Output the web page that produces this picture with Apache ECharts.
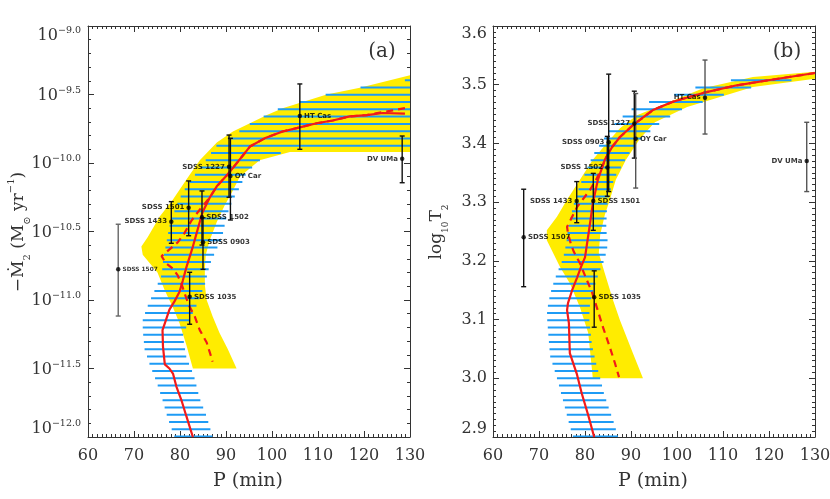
<!DOCTYPE html>
<html><head><meta charset="utf-8">
<script src="https://cdn.jsdelivr.net/npm/echarts/dist/echarts.min.js"></script>
<style>html,body{margin:0;padding:0;background:#fff}#c{width:830px;height:499px}</style>
</head><body><div id="c"></div>
<script>
// ================= DATA =================
// axis ranges / ticks
const xTicks = [60, 70, 80, 90, 100, 110, 120, 130];
const yTicksA = [-12.0, -11.5, -11.0, -10.5, -10.0, -9.5, -9.0];   // log10(-Mdot)
const yTicksB = [2.9, 3.0, 3.1, 3.2, 3.3, 3.4, 3.5, 3.6];            // log10 T2

// ---- panel (a) : log10(-Mdot2) vs P ----
const yellowAP = [130.0,119.1,111.9,102.3,98.9,91.5,88.0,84.3,81.4,78.4,75.6,73.0,71.6,71.9,75.1,76.7,78.4,79.9,81.4,82.8,
                  92.3,90.4,88.6,87.1,85.8,85.4,85.4,85.6,86.5,88.0,89.7,91.5,93.0,97.3,103.9,130.0];
const yellowAL = [-9.36,-9.45,-9.50,-9.60,-9.65,-9.77,-9.85,-9.98,-10.12,-10.27,-10.39,-10.54,-10.61,-10.67,-10.80,-10.93,-11.05,-11.17,-11.33,-11.50,
                  -11.50,-11.36,-11.24,-11.12,-11.00,-10.89,-10.78,-10.67,-10.56,-10.43,-10.31,-10.20,-10.10,-9.98,-9.92,-9.92];
const blueAP = [130.0,119.1,111.9,102.3,98.9,95.8,91.5,88.0,85.8,83.6,81.4,79.9,78.8,77.7,77.1,76.4,76.0,74.5,73.0,71.9,71.9,72.3,73.4,74.9,76.2,77.3,78.8,
                87.1,85.8,84.3,83.0,81.4,80.6,82.1,83.6,85.4,86.5,87.8,89.1,90.2,91.5,93.0,94.5,98.0,103.9,130.0];
const blueAL = [-9.39,-9.45,-9.50,-9.59,-9.65,-9.70,-9.80,-9.87,-9.97,-10.07,-10.17,-10.26,-10.35,-10.46,-10.57,-10.69,-10.82,-10.93,-11.04,-11.14,-11.22,-11.36,-11.47,-11.60,-11.73,-11.86,-12.0,
                -12.0,-11.85,-11.72,-11.55,-11.42,-11.26,-11.14,-11.04,-10.89,-10.74,-10.64,-10.55,-10.38,-10.27,-10.18,-10.07,-9.96,-9.91,-9.91];
const solidAP = [128.9,124.1,120.6,116.9,113.2,109.7,106.05,102.3,98.4,95.2,92.6,90.2,88.0,86.5,84.9,83.8,82.8,81.4,80.6,79.9,78.8,77.7,76.9,76.2,76.3,76.7,77.7,78.5,79.2,80.3,81.4,82.8];
const solidAL = [-9.64,-9.635,-9.65,-9.66,-9.69,-9.71,-9.74,-9.77,-9.82,-9.88,-9.99,-10.09,-10.17,-10.25,-10.36,-10.49,-10.61,-10.76,-10.86,-10.94,-11.01,-11.07,-11.15,-11.22,-11.34,-11.47,-11.50,-11.54,-11.63,-11.73,-11.85,-12.0];
const dashAP = [128.9,125.6,120.6,116.9,113.2,109.7,106.05,102.3,98.4,95.2,92.6,90.2,88.0,86.5,84.3,82.5,81.0,79.5,76.0,76.9,78.4,79.5,80.4,81.4,82.1,83.2,84.3,85.8,87.1];
const dashAL = [-9.60,-9.62,-9.65,-9.66,-9.69,-9.71,-9.74,-9.77,-9.82,-9.88,-9.99,-10.09,-10.17,-10.25,-10.34,-10.42,-10.51,-10.58,-10.68,-10.73,-10.77,-10.82,-10.89,-10.99,-11.05,-11.12,-11.22,-11.31,-11.45];
const objNamesA = ['HT Cas','DV UMa','SDSS 1227','OY Car','SDSS 1501','SDSS 1433','SDSS 1502','SDSS 0903','SDSS 1507','SDSS 1035'];
const objPA  = [106.05,128.3,90.66,90.96,81.88,78.11,84.78,85.0,66.57,82.1];
const objLA  = [-9.657,-9.969,-10.027,-10.095,-10.326,-10.428,-10.396,-10.579,-10.776,-10.976];
const objLoA = [-9.900,-10.144,-10.250,-10.416,-10.531,-10.586,-10.599,-10.776,-11.117,-11.177];
const objHiA = [-9.423,-9.803,-9.796,-9.820,-10.131,-10.282,-10.204,-10.400,-10.447,-10.798];

// ---- panel (b) : log10 T2 vs P ----
const yellowBP = [130.0,116.5,105.7,91.3,87.6,84.8,81.7,78.9,76.1,73.9,71.7,71.7,72.4,74.6,76.7,78.9,80.7,81.7,
                  92.6,90.4,87.6,86.1,84.3,83.0,83.3,84.3,85.4,86.7,88.9,92.0,95.2,102.2,116.5,130.0];
const yellowBT = [3.522,3.513,3.494,3.448,3.426,3.401,3.372,3.338,3.304,3.275,3.252,3.235,3.224,3.189,3.162,3.121,3.077,3.000,
                  3.000,3.043,3.099,3.133,3.179,3.213,3.244,3.278,3.304,3.338,3.372,3.409,3.436,3.462,3.496,3.510];
const blueBP = [126.7,112.0,104.3,99.1,94.1,89.8,86.1,83.9,81.7,80.4,78.9,77.8,77.0,76.3,75.9,75.2,73.9,72.8,72.0,71.7,72.0,72.4,73.9,75.2,76.5,77.4,
                87.2,86.3,85.2,84.1,83.3,82.4,81.5,80.9,81.1,82.0,83.0,84.3,85.0,84.6,84.8,85.4,86.5,87.6,89.3,92.0,95.7,100.7,109.8,116.5,125.2];
const blueBT = [3.511,3.508,3.496,3.482,3.471,3.457,3.431,3.406,3.380,3.356,3.329,3.304,3.280,3.254,3.229,3.203,3.179,3.154,3.128,3.108,3.077,3.038,3.000,2.963,2.924,2.900,
                2.900,2.924,2.949,2.975,3.000,3.026,3.057,3.103,3.128,3.154,3.179,3.203,3.229,3.254,3.292,3.317,3.343,3.356,3.380,3.406,3.431,3.457,3.482,3.496,3.508];
const solidBP = [130.0,120.2,113.0,105.7,99.1,94.8,90.4,87.6,85.9,84.3,82.8,81.7,81.1,80.4,80.0,79.3,78.3,77.2,76.3,76.1,76.5,76.7,78.2,79.3,80.7,82.0];
const solidBT = [3.520,3.508,3.499,3.486,3.471,3.457,3.431,3.411,3.394,3.372,3.338,3.298,3.264,3.227,3.206,3.193,3.172,3.150,3.128,3.116,3.094,3.043,3.008,2.974,2.937,2.900];
const dashBP = [130.0,120.2,113.0,105.7,99.1,94.8,90.4,87.6,85.9,84.3,83.9,82.6,81.1,78.3,77.2,76.1,76.3,77.0,77.6,78.9,80.2,81.5,82.6,83.9,85.4,86.5,87.4];
const dashBT = [3.520,3.508,3.499,3.486,3.471,3.457,3.431,3.411,3.394,3.372,3.363,3.341,3.321,3.292,3.275,3.258,3.247,3.227,3.215,3.196,3.171,3.147,3.120,3.087,3.053,3.026,3.002];
const objNamesB = ['HT Cas','DV UMa','SDSS 1227','OY Car','SDSS 0903','SDSS 1502','SDSS 1501','SDSS 1433','SDSS 1507','SDSS 1035'];
const objPB  = [106.09,128.2,90.72,91.02,85.15,84.85,81.8,78.2,66.67,82.0];
const objTB  = [3.478,3.370,3.434,3.408,3.402,3.359,3.302,3.302,3.240,3.138];
const objLoB = [3.416,3.318,3.375,3.324,3.318,3.310,3.252,3.265,3.156,3.087];
const objHiB = [3.542,3.436,3.489,3.485,3.518,3.412,3.349,3.335,3.322,3.183];

// ================= STYLE / LAYOUT =================
const YELLOW = '#FFEC00', BLUE = '#1E9BF5', RED = '#F21A1A';
const AXC = '#333';
const labelSideA = {'HT Cas':'right','DV UMa':'left','SDSS 1227':'left','OY Car':'right','SDSS 1501':'left','SDSS 1433':'left','SDSS 1502':'right','SDSS 0903':'right','SDSS 1507':'right','SDSS 1035':'right'};
const labelSideB = {'HT Cas':'left','DV UMa':'left','SDSS 1227':'left','OY Car':'right','SDSS 0903':'left','SDSS 1502':'left','SDSS 1501':'right','SDSS 1433':'left','SDSS 1507':'right','SDSS 1035':'right'};
const smallLabelA = ['SDSS 1507'];
const grayBarsA = ['SDSS 1507'];
const grayBarsB = ['HT Cas','DV UMa','OY Car'];
const HATCH_STEP = 7.27;

function polyRender(Ps, Vs, fill) {
  return function (params, api) {
    const pts = Ps.map((p, i) => api.coord([p, Vs[i]]));
    return { type: 'polygon', shape: { points: pts }, style: { fill: fill } };
  };
}
function hatchRender(Ps, Vs, color) {
  return function (params, api) {
    const pts = Ps.map((p, i) => api.coord([p, Vs[i]]));
    const cs = params.coordSys;
    const yb = cs.y + cs.height - 0.5;
    const minY = Math.min.apply(null, pts.map(p => p[1]));
    const children = [];
    for (let y = yb; y >= minY; y -= HATCH_STEP) {
      const xs = [];
      for (let i = 0; i < pts.length; i++) {
        const a = pts[i], b = pts[(i + 1) % pts.length];
        if ((a[1] <= y && b[1] > y) || (b[1] <= y && a[1] > y)) {
          xs.push(a[0] + (y - a[1]) * (b[0] - a[0]) / (b[1] - a[1]));
        }
      }
      xs.sort((m, n) => m - n);
      for (let k = 0; k + 1 < xs.length; k += 2) {
        children.push({ type: 'line', shape: { x1: xs[k], y1: y, x2: xs[k + 1], y2: y }, style: { stroke: color, lineWidth: 2 } });
      }
    }
    return { type: 'group', children: children };
  };
}
function errRender(colors) {
  return function (params, api) {
    const x = api.value(0), lo = api.value(1), hi = api.value(2);
    const a = api.coord([x, lo]), b = api.coord([x, hi]);
    const c = colors[params.dataIndex];
    const st = { stroke: c, lineWidth: 1.4 };
    return { type: 'group', children: [
      { type: 'line', shape: { x1: a[0], y1: a[1], x2: b[0], y2: b[1] }, style: st },
      { type: 'line', shape: { x1: a[0] - 2.5, y1: a[1], x2: a[0] + 2.5, y2: a[1] }, style: st },
      { type: 'line', shape: { x1: b[0] - 2.5, y1: b[1], x2: b[0] + 2.5, y2: b[1] }, style: st }
    ]};
  };
}
function zip(a, b) { return a.map((v, i) => [v, b[i]]); }

function xAxisDef(grid, pos, showLabel) {
  return {
    gridIndex: grid, type: 'value', position: pos, min: xTicks[0], max: xTicks[xTicks.length - 1], interval: 10,
    axisLine: { show: true, onZero: false, lineStyle: { color: AXC, width: 1 } },
    axisTick: { show: true, inside: true, length: 6, lineStyle: { color: AXC } },
    minorTick: { show: true, splitNumber: 10, length: 3, lineStyle: { color: AXC } },
    splitLine: { show: false }, minorSplitLine: { show: false },
    axisLabel: { show: showLabel, fontFamily: 'DejaVu Serif', fontSize: 16, color: AXC, margin: 11 }
  };
}
function yAxisDef(grid, pos, showLabel, ticks, interval, minorSplit, fmt, rich, margin) {
  return {
    gridIndex: grid, type: 'value', position: pos, min: ticks[0], max: ticks[ticks.length - 1], interval: interval,
    axisLine: { show: true, onZero: false, lineStyle: { color: AXC, width: 1 } },
    axisTick: { show: true, inside: true, length: 6, lineStyle: { color: AXC } },
    minorTick: { show: true, splitNumber: minorSplit, length: 3, lineStyle: { color: AXC } },
    splitLine: { show: false }, minorSplitLine: { show: false },
    axisLabel: { show: showLabel, formatter: fmt, rich: rich, fontFamily: 'DejaVu Serif', fontSize: 16, color: AXC, margin: margin,
                 verticalAlignMaxLabel: 'top', verticalAlignMinLabel: 'bottom' }
  };
}
const richA = {
  b: { fontFamily: 'DejaVu Serif', fontSize: 16, color: AXC, lineHeight: 18, verticalAlign: 'bottom' },
  s: { fontFamily: 'DejaVu Serif', fontSize: 9.5, color: AXC, lineHeight: 12, verticalAlign: 'top' }
};
const fmtA = v => '{b|10}{s|' + (v < 0 ? '\u2212' : '') + Math.abs(v).toFixed(1) + '}';
const fmtB = v => v.toFixed(1);

function pointsData(names, Ps, Vs, sides, small) {
  return names.map((n, i) => ({
    name: n, value: [Ps[i], Vs[i]],
    label: { position: sides[n], fontSize: small.indexOf(n) >= 0 ? 5.8 : 7 }
  }));
}
function barData(Ps, lo, hi) { return Ps.map((p, i) => [p, lo[i], hi[i]]); }

function panelSeries(xi, yi, yel, blu, sol, dsh, pts, bars, barColors) {
  return [
    { type: 'custom', xAxisIndex: xi, yAxisIndex: yi, clip: true, silent: true, z: 1, data: [[70, yel[1][0]]], renderItem: polyRender(yel[0], yel[1], YELLOW) },
    { type: 'custom', xAxisIndex: xi, yAxisIndex: yi, clip: true, silent: true, z: 2, data: [[70, blu[1][0]]], renderItem: hatchRender(blu[0], blu[1], BLUE) },
    { type: 'line', xAxisIndex: xi, yAxisIndex: yi, z: 3, showSymbol: false, clip: true, data: zip(sol[0], sol[1]), lineStyle: { color: RED, width: 2.2 } },
    { type: 'line', xAxisIndex: xi, yAxisIndex: yi, z: 3, showSymbol: false, clip: true, data: zip(dsh[0], dsh[1]), lineStyle: { color: RED, width: 2.2, type: [7, 5] } },
    { type: 'custom', xAxisIndex: xi, yAxisIndex: yi, z: 4, encode: { x: 0, y: [1, 2] }, data: bars, renderItem: errRender(barColors) },
    { type: 'scatter', xAxisIndex: xi, yAxisIndex: yi, z: 5, symbolSize: 4.5, itemStyle: { color: '#000' }, data: pts,
      label: { show: true, formatter: '{b}', distance: 2, fontFamily: 'DejaVu Sans', fontWeight: 'bold', fontSize: 7, color: '#000' } }
  ];
}

const chart = echarts.init(document.getElementById('c'), null, { renderer: 'canvas' });
const option = {
  animation: false,
  backgroundColor: '#fff',
  grid: [
    { left: 88, right: 420, top: 26, bottom: 62, outerBoundsMode: 'none', containLabel: false },
    { left: 493, right: 15, top: 26, bottom: 62, outerBoundsMode: 'none', containLabel: false }
  ],
  xAxis: [xAxisDef(0, 'bottom', true), xAxisDef(0, 'top', false), xAxisDef(1, 'bottom', true), xAxisDef(1, 'top', false)],
  yAxis: [
    yAxisDef(0, 'left', true, yTicksA, 0.5, 5, fmtA, richA, 7),
    yAxisDef(0, 'right', false, yTicksA, 0.5, 5, null, null, 7),
    yAxisDef(1, 'left', true, yTicksB, 0.1, 10, fmtB, null, 6),
    yAxisDef(1, 'right', false, yTicksB, 0.1, 10, null, null, 6)
  ],
  series: [].concat(
    panelSeries(0, 0, [yellowAP, yellowAL], [blueAP, blueAL], [solidAP, solidAL], [dashAP, dashAL],
      pointsData(objNamesA, objPA, objLA, labelSideA, smallLabelA), barData(objPA, objLoA, objHiA),
      objNamesA.map(n => grayBarsA.indexOf(n) >= 0 ? '#666' : '#111')),
    panelSeries(2, 2, [yellowBP, yellowBT], [blueBP, blueBT], [solidBP, solidBT], [dashBP, dashBT],
      pointsData(objNamesB, objPB, objTB, labelSideB, []), barData(objPB, objLoB, objHiB),
      objNamesB.map(n => grayBarsB.indexOf(n) >= 0 ? '#555' : '#111'))
  ),
  graphic: [
    { type: 'text', x: 248, y: 481, style: { text: 'P (min)', font: '19px "DejaVu Serif"', fill: AXC, align: 'center', verticalAlign: 'middle', textAlign: 'center', textVerticalAlign: 'middle' } },
    { type: 'text', x: 653, y: 481, style: { text: 'P (min)', font: '19px "DejaVu Serif"', fill: AXC, align: 'center', verticalAlign: 'middle', textAlign: 'center', textVerticalAlign: 'middle' } },
    { type: 'text', x: 382, y: 52, style: { text: '(a)', font: '20px "DejaVu Serif"', fill: AXC, align: 'center', verticalAlign: 'middle', textAlign: 'center', textVerticalAlign: 'middle' } },
    { type: 'text', x: 787, y: 52, style: { text: '(b)', font: '20px "DejaVu Serif"', fill: AXC, align: 'center', verticalAlign: 'middle', textAlign: 'center', textVerticalAlign: 'middle' } },
    { type: 'text', x: 19, y: 232, rotation: Math.PI / 2,
      style: { text: '{a|\u2212\u1E40}{sub|2}{a| (M}{sub|\u2299}{a| yr}{sup|\u22121}{a|)}',
        align: 'center', verticalAlign: 'middle', textAlign: 'center', textVerticalAlign: 'middle',
        rich: {
          a: { fontFamily: 'DejaVu Serif', fontSize: 17, fill: AXC, lineHeight: 26, verticalAlign: 'middle' },
          sub: { fontFamily: 'DejaVu Serif', fontSize: 10, fill: AXC, lineHeight: 10, verticalAlign: 'bottom' },
          sup: { fontFamily: 'DejaVu Serif', fontSize: 10, fill: AXC, lineHeight: 10, verticalAlign: 'top' }
        } } },
    { type: 'text', x: 437, y: 232, rotation: Math.PI / 2,
      style: { text: '{a|log}{sub|10}{a|T}{sub|2}',
        align: 'center', verticalAlign: 'middle', textAlign: 'center', textVerticalAlign: 'middle',
        rich: {
          a: { fontFamily: 'DejaVu Serif', fontSize: 17, fill: AXC, lineHeight: 26, verticalAlign: 'middle' },
          sub: { fontFamily: 'DejaVu Serif', fontSize: 9, fill: AXC, lineHeight: 10, verticalAlign: 'bottom' }
        } } }
  ]
};
chart.setOption(option);
</script>
</body></html>
